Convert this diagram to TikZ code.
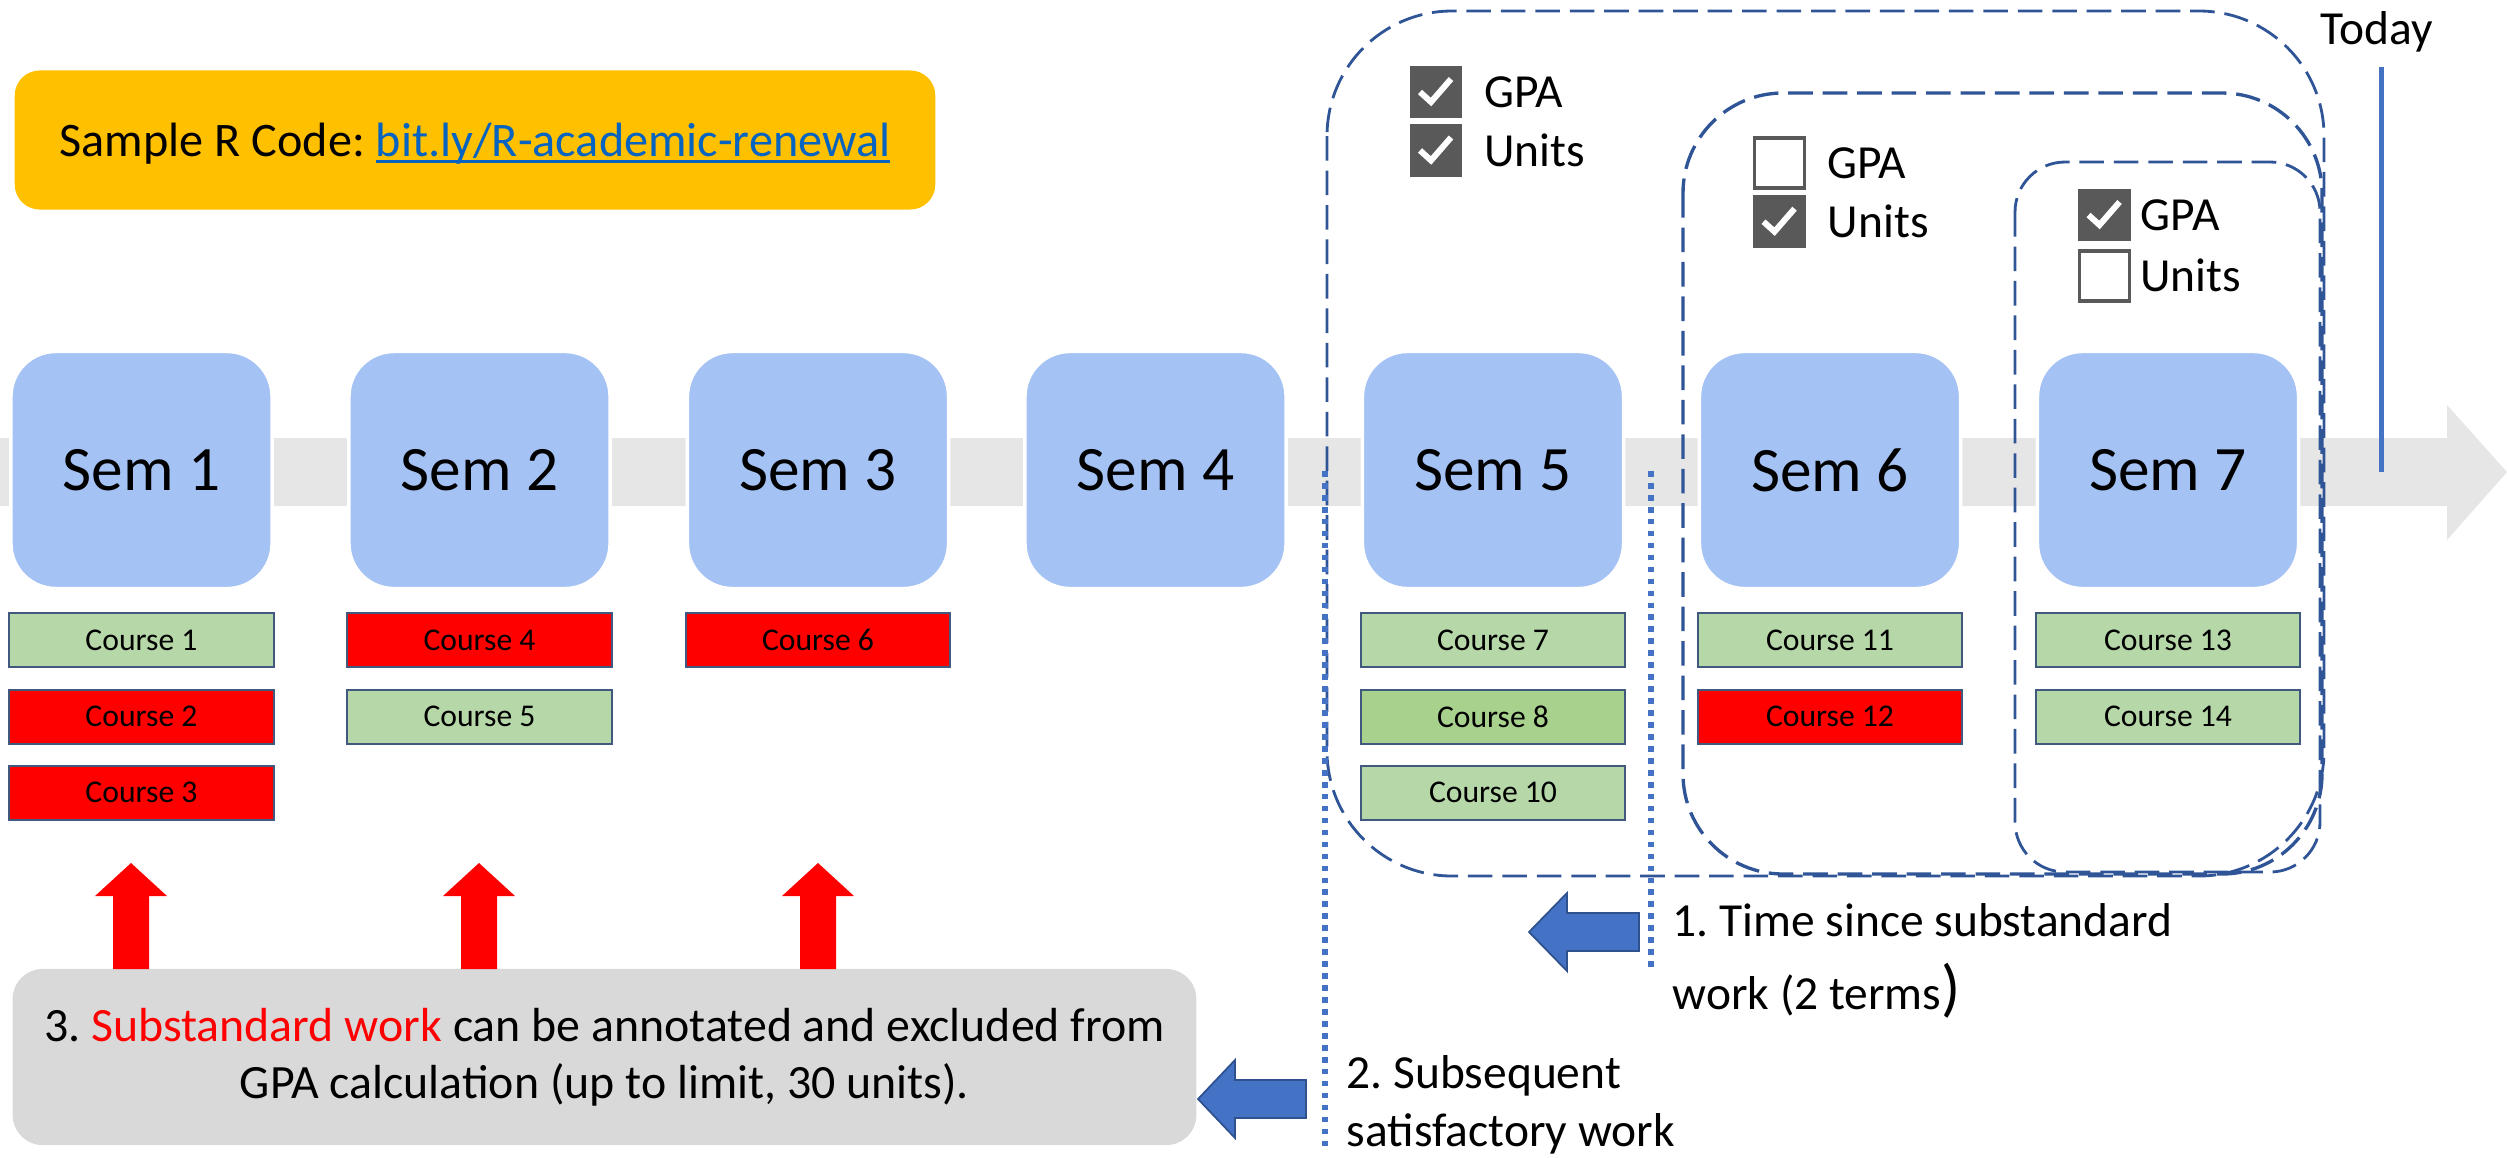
\documentclass[tikz,border=0pt]{standalone}
\usepackage{fontspec}
\setmainfont{Carlito}
\usetikzlibrary{positioning}
\frenchspacing

\definecolor{semblue}{HTML}{A4C2F4}
\definecolor{bandgray}{HTML}{E7E6E6}
\definecolor{passgreen}{HTML}{B6D7A8}
\definecolor{passgreenB}{HTML}{A9D18E}
\definecolor{failred}{HTML}{FF0000}
\definecolor{edgeblue}{HTML}{41587F}
\definecolor{zoneblue}{HTML}{2F5597}
\definecolor{markblue}{HTML}{4472C4}
\definecolor{arrowedge}{HTML}{2F528F}
\definecolor{boxgray}{HTML}{595959}
\definecolor{notegray}{HTML}{D9D9D9}
\definecolor{codeyellow}{HTML}{FFC000}
\definecolor{linkblue}{HTML}{0563C1}

% link text with a low underline
\newcommand{\ulink}[1]{\textcolor{linkblue}{\setbox0\hbox{#1}\rlap{\rule[-1.8pt]{\wd0}{0.8pt}}\box0}}

\tikzset{
  sem/.style={fill=semblue, draw=white, line width=1pt, rounded corners=0.45cm,
    minimum width=2.61cm, minimum height=2.37cm, font=\fontsize{18}{20}\selectfont},
  course/.style={draw=edgeblue, line width=0.6pt, minimum width=2.64cm,
    minimum height=0.54cm, inner sep=0pt, font=\fontsize{9}{10}\selectfont},
  pass/.style={course, fill=passgreen},
  fail/.style={course, fill=failred},
  chkon/.style={fill=boxgray, draw=white, line width=0.4pt, minimum size=0.54cm, inner sep=0pt},
  chkoff/.style={fill=white, draw=boxgray, line width=1.1pt, minimum size=0.5cm, inner sep=0pt},
  chklabel/.style={inner sep=0pt, font=\fontsize{13.5}{15}\selectfont},
  zone/.style={draw=zoneblue, line width=0.8pt, dash pattern=on 7pt off 2.8pt},
  divider/.style={draw=markblue, line width=1.6pt, dash pattern=on 1.6pt off 1.8pt},
  bluearrow/.style={fill=markblue, draw=arrowedge, line width=0.5pt},
  checkmark/.pic={\draw[white, line width=1.7pt] (-16,0) -- (-5,10) -- (15,-13);}
}

\begin{document}
\begin{tikzpicture}[x=0.01cm, y=-0.01cm]
    \useasboundingbox (0,0) rectangle (2507,1157);

    % Timeline band
    \fill[bandgray] (0,438) -- (2447,438) -- (2447,405) -- (2507,472)
        -- (2447,540) -- (2447,506) -- (0,506) -- cycle;

    % Code link
    \node[fill=codeyellow, rounded corners=0.25cm, minimum width=9.2cm, minimum height=1.39cm,
        text depth=0pt, font=\fontsize{13.7}{15}\selectfont] (code) at (475,140)
        {Sample R Code: \ulink{bit.ly/R-academic-renewal}};

    % Renewal windows
    \draw[zone, rounded corners=1.25cm] (1327,11) rectangle (2324,876);
    \draw[zone, line width=0.95pt, rounded corners=1cm] (1683,93) rectangle (2322,874);
    \draw[zone, rounded corners=0.5cm] (2015,162) rectangle (2320,872);

    % Semesters
    \foreach \i/\x in {1/141.5,2/479.5,3/818,4/1155.5,5/1493,6/1830,7/2168}
        \node[sem] (sem\i) at (\x,470) {Sem \i};

    % Courses
    \node[pass, below=0.22cm of sem1] (c1) {Course 1};
    \node[fail, below=0.2cm of c1] (c2) {Course 2};
    \node[fail, below=0.2cm of c2] (c3) {Course 3};
    \node[fail, below=0.22cm of sem2] (c4) {Course 4};
    \node[pass, below=0.2cm of c4] (c5) {Course 5};
    \node[fail, below=0.22cm of sem3] (c6) {Course 6};
    \node[pass, below=0.22cm of sem5] (c7) {Course 7};
    \node[pass, fill=passgreenB, below=0.2cm of c7] (c8) {Course 8};
    \node[pass, below=0.2cm of c8] (c10) {Course 10};
    \node[pass, below=0.22cm of sem6] (c11) {Course 11};
    \node[fail, below=0.2cm of c11] (c12) {Course 12};
    \node[pass, below=0.22cm of sem7] (c13) {Course 13};
    \node[pass, below=0.2cm of c13] (c14) {Course 14};

    % Checklists
    \node[chkon] (g5gpa) at (1436,92) {};
    \node[chkon, below=0.03cm of g5gpa] (g5units) {};
    \pic at (g5gpa) {checkmark};
    \pic at (g5units) {checkmark};
    \node[chklabel, right=0.2cm of g5gpa] (g5gpatext) {GPA};
    \node[chklabel, right=0.2cm of g5units] (g5unitstext) {Units};

    \node[chkoff] (g6gpa) at (1779.5,163) {};
    \node[chkon, below=0.04cm of g6gpa] (g6units) {};
    \pic at (g6units) {checkmark};
    \node[chklabel, right=0.2cm of g6gpa] (g6gpatext) {GPA};
    \node[chklabel, right=0.2cm of g6units] (g6unitstext) {Units};

    \node[chkon] (g7gpa) at (2104.5,215) {};
    \node[chkoff, below=0.06cm of g7gpa] (g7units) {};
    \pic at (g7gpa) {checkmark};
    \node[chklabel, right=0.08cm of g7gpa] (g7gpatext) {GPA};
    \node[chklabel, right=0.08cm of g7units] (g7unitstext) {Units};

    % Today marker
    \node[chklabel, anchor=west] (today) at (2320,32) {Today};
    \coordinate (nowtop) at (2381,67);
    \coordinate (now) at (2381,472);
    \draw[markblue, line width=1.4pt] (nowtop) -- (now);

    % Cut-off lines
    \coordinate (cutAtop) at (1325,471);
    \coordinate (cutAbot) at (1325,1148);
    \coordinate (cutBtop) at (1651,471);
    \coordinate (cutBbot) at (1651,969);
    \draw[divider] (cutAtop) -- (cutAbot);
    \draw[divider] (cutBtop) -- (cutBbot);

    % Notes
    \node[fill=notegray, rounded corners=0.3cm, minimum width=11.83cm, minimum height=1.76cm,
        align=center, font=\fontsize{13.6}{16.3}\selectfont] (note) at (604.5,1057)
        {3. \textcolor{failred}{Substandard work} can be annotated and excluded from\\
         GPA calculation (up to limit, 30 units).};
    \node[anchor=west, align=left, inner sep=0pt, font=\fontsize{13.5}{20.8}\selectfont] (rule1)
        at (1672,961) {1. Time since substandard\\work (2 terms{\fontsize{18}{20.8}\selectfont)}};
    \node[anchor=west, align=left, inner sep=0pt, font=\fontsize{13.5}{16.5}\selectfont] (rule2)
        at (1346,1105) {2. Subsequent\\satisfactory work};

    % Block arrows
    \foreach \x in {131,479,818}
        \fill[failred] ({\x-18},969) -- ({\x-18},896) -- ({\x-36},896) -- (\x,863)
            -- ({\x+36},896) -- ({\x+18},896) -- ({\x+18},969) -- cycle;
    \filldraw[bluearrow] (1639,913) -- (1567,913) -- (1567,893) -- (1529,932)
        -- (1567,971) -- (1567,951) -- (1639,951) -- cycle;
    \filldraw[bluearrow] (1306,1080) -- (1235,1080) -- (1235,1060) -- (1198,1099)
        -- (1235,1138) -- (1235,1118) -- (1306,1118) -- cycle;
\end{tikzpicture}
\end{document}
